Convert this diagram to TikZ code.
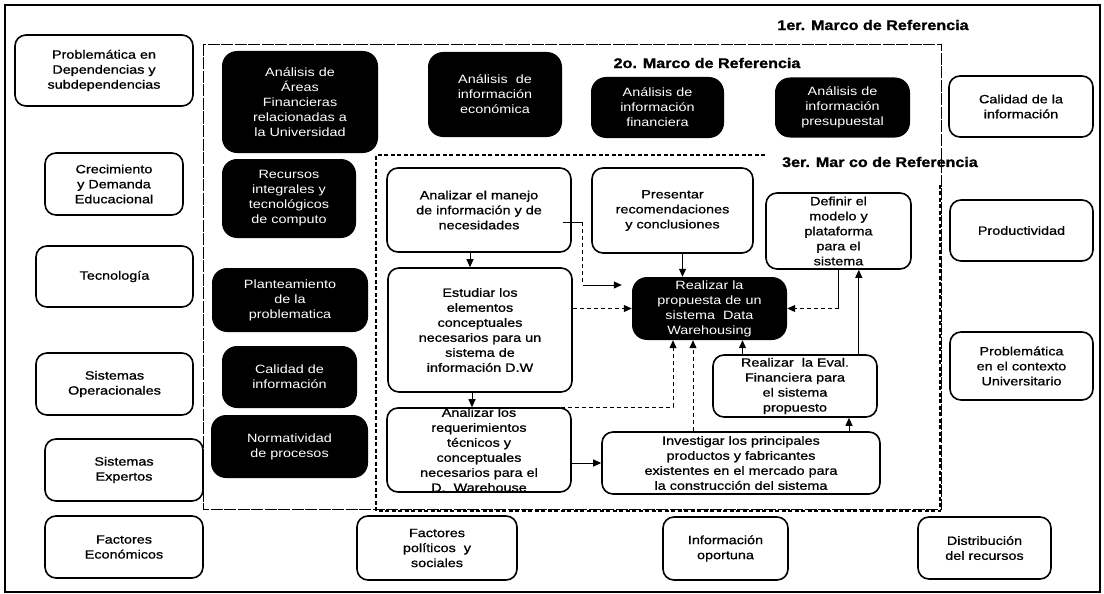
\documentclass[tikz,border=0pt]{standalone}
\usepackage{fontspec}
\setmainfont{Liberation Sans}[FakeStretch=1.2]
\newfontfamily\heavyfont{Liberation Sans}[FakeStretch=1.2,FakeBold=0.9]
\newfontfamily\titlefont{Liberation Sans Bold}[FakeStretch=1.15,FakeBold=1.2]
\usetikzlibrary{arrows.meta,calc}
% box frame + centred text on top of it
\newcommand\placebox[6]{%
  \node[#1, minimum width=#4pt, minimum height=#5pt] (#2) at (#3) {};
  \node[#1text] (#2t) at (#2) {#6};}
\begin{document}
\begin{tikzpicture}[x=1pt,y=-1pt,
  txt/.style={align=center, inner sep=0pt},
  wbox/.style={draw, line width=1.6pt, rounded corners=11pt, fill=white, inner sep=0pt},
  wboxtext/.style={txt, font=\heavyfont\fontsize{12}{15}\selectfont},
  kbox/.style={fill=black, rounded corners=15pt, inner sep=0pt},
  kboxtext/.style={txt, text=white, font=\fontsize{12}{15}\selectfont},
  ttl/.style={font=\titlefont\fontsize{14}{16}\selectfont, inner sep=0pt},
  arr/.style={-{Triangle[length=8pt,width=7pt]}, line width=1pt},
  ln/.style={line width=1pt},
  dsh/.style={dash pattern=on 4pt off 3pt}
]
\useasboundingbox (0,0) rectangle (1104,594);

% frames of reference
\draw[line width=1.2pt] (5,5) rectangle (1100,592);
\draw[line width=0.8pt, dash pattern=on 12pt off 1.5pt] (203,44) rectangle (941,509);
\draw[line width=1.2pt, dash pattern=on 4pt off 2.5pt]
  (765,155) -- (376,155) -- (376,511) -- (940,511) -- (940,183);

\node[ttl] (t1) at (873,25) {1er. Marco de Referencia};
\node[ttl] (t2) at (707,63) {2o. Marco de Referencia};
\node[ttl] (t3) at (880,162) {3er. Mar co de Referencia};

% outer factors
\placebox{wbox}{B1}{104,70.5}{178}{71}{Problemática en\\Dependencias y\\subdependencias}
\placebox{wbox}{B2}{114,184}{138}{62}{Crecimiento\\y Demanda\\Educacional}
\placebox{wbox}{B3}{114.5,276.5}{157}{61}{Tecnología}
\placebox{wbox}{B4}{114.5,384}{157}{62}{Sistemas\\Operacionales}
\placebox{wbox}{B5}{124,470}{158}{62}{Sistemas\\Expertos}
\placebox{wbox}{B6}{124,547}{158}{62}{Factores\\Económicos}
\placebox{wbox}{W1}{1021,106.5}{144}{61}{Calidad de la\\información}
\placebox{wbox}{W2}{1021.5,230.5}{143}{61}{Productividad}
\placebox{wbox}{W3}{1021.5,366}{143}{68}{Problemática\\en el contexto\\Universitario}
\placebox{wbox}{W4}{984.5,548}{133}{62}{Distribución\\del recursos}
\placebox{wbox}{W5}{437,548}{160}{64}{Factores\\políticos\ \ y\\sociales}
\placebox{wbox}{W6}{725.5,548.5}{125}{63}{Información\\oportuna}

% second frame: analysis areas
\placebox{kbox}{K1}{300,102}{156}{102}{Análisis de\\Áreas\\Financieras\\relacionadas a\\la Universidad}
\placebox{kbox}{K2}{289,198.5}{134}{79}{Recursos\\integrales y\\tecnológicos\\de computo}
\placebox{kbox}{K3}{290,300}{156}{64}{Planteamiento\\de la\\problematica}
\placebox{kbox}{K4}{289.5,377}{135}{62}{Calidad de\\información}
\placebox{kbox}{K5}{289.5,446.5}{157}{63}{Normatividad\\de procesos}
\placebox{kbox}{K6}{495,94.5}{134}{85}{Análisis\ \ de\\información\\económica}
\placebox{kbox}{K7}{657.5,107.5}{133}{61}{Análisis de\\información\\financiera}
\placebox{kbox}{K8}{842.5,107.5}{135}{60}{Análisis de\\información\\presupuestal}

% third frame: process steps
\placebox{wbox}{F1}{479,210}{184}{84}{Analizar el manejo\\de información y de\\necesidades}
\placebox{wbox}{F2}{672.5,210.5}{161}{85}{Presentar\\recomendaciones\\y conclusiones}
\placebox{wbox}{F3}{838.5,231}{145}{76}{Definir el\\modelo y\\plataforma\\para el\\sistema}
\placebox{wbox}{F4}{480,330}{184}{124}{Estudiar los\\elementos\\conceptuales\\necesarios para un\\sistema de\\información D.W}
\placebox{kbox}{F5}{709.5,308.5}{155}{63}{Realizar la\\propuesta de un\\sistema\ \ Data\\Warehousing}
\placebox{wbox}{F6}{795,386}{164}{62}{Realizar\ \ la Eval.\\Financiera para\\el sistema\\propuesto}
\placebox{wbox}{F7}{479,450}{184}{84}{Analizar los\\requerimientos\\técnicos y\\conceptuales\\necesarios para el\\D.\ \ Warehouse}
\placebox{wbox}{F8}{741,463}{278}{62}{Investigar los principales\\productos y fabricantes\\existentes en el mercado para\\la construcción del sistema}

% connectors
\coordinate (a1) at ($(F1.south)+(-9,0)$);
\draw[arr] (a1) -- (a1 |- F4.north);
\coordinate (a2) at ($(F4.south)+(-8,0)$);
\draw[arr] (a2) -- (a2 |- F7.north);
\draw[arr] (F7.east |- F8.west) -- (F8.west);
\coordinate (a4) at ($(F2.south)+(10,0)$);
\draw[arr] (a4) -- (a4 |- F5.north);

\coordinate (a5s) at ($(F1.east)+(-9,12)$);
\coordinate (a5m) at ($(a5s)+(20,0)$);
\coordinate (a5e) at ($(F5.west)+(-10,-23.5)$);
\draw[ln] (a5s) -- (a5m);
\draw[ln,dsh] (a5m) -- (a5m |- a5e);
\draw[arr] (a5m |- a5e) -- (a5e);

\draw[arr,dsh] (F5.west -| F4.east) -- (F5.west);

\draw[ln] (F3.south) -- (F3.south |- F5.east);
\draw[arr,dsh] (F3.south |- F5.east) -- (F5.east);

\coordinate (a8) at ($(F6.north east)+(-19,0)$);
\draw[arr] (a8) -- (a8 |- F3.south);
\coordinate (a9) at ($(F5.south)+(33,0)$);
\draw[arr] (a9 |- F6.north) -- (a9);
\coordinate (a10) at ($(F6.south)+(54,0)$);
\draw[arr] (a10 |- F8.north) -- (a10);

\coordinate (a11s) at ($(F7.north east)+(-18,0)$);
\coordinate (a11c) at ($(F5.south)+(-36.5,0)$);
\draw[arr,dsh] (a11s) -| (a11c);
\coordinate (a12) at ($(F5.south)+(-16.5,0)$);
\draw[arr,dsh] (a12 |- F8.north) -- (a12);
\end{tikzpicture}
\end{document}
